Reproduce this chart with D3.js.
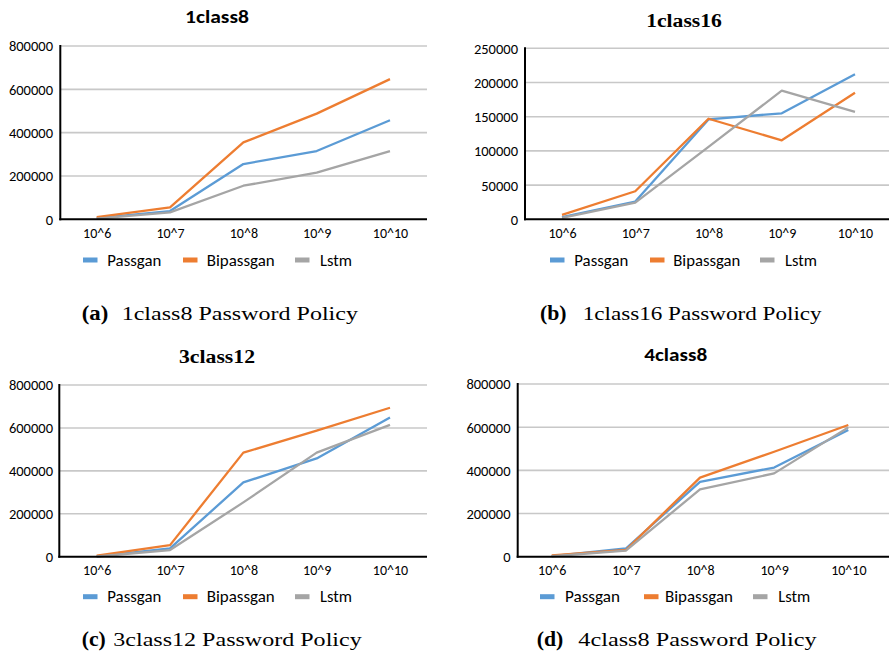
<!DOCTYPE html>
<html>
<head>
<meta charset="utf-8">
<script src="https://cdn.jsdelivr.net/npm/d3@7"></script>
<style>
  html, body { margin: 0; padding: 0; background: #ffffff; }
  svg { display: block; }
</style>
</head>
<body>
<svg id="chart" width="889" height="661"></svg>
<script>
// ---------- DATA ----------
const categories = ["10^6", "10^7", "10^8", "10^9", "10^10"];
const seriesNames = ["Passgan", "Bipassgan", "Lstm"];
const seriesColors = ["#5B9BD5", "#ED7D31", "#A5A5A5"];

const ticks800k = [0, 200000, 400000, 600000, 800000];
const ticks250k = [0, 50000, 100000, 150000, 200000, 250000];

// 1class8
const passgan1class8   = [5000, 38000, 255000, 315000, 457000];
const bipassgan1class8 = [10000, 55000, 355000, 488000, 647000];
const lstm1class8      = [3000, 32000, 155000, 215000, 315000];

// 1class16
const passgan1class16   = [3000, 26000, 146000, 155000, 212000];
const bipassgan1class16 = [6500, 41000, 147000, 115500, 185000];
const lstm1class16      = [2000, 24500, 106000, 188000, 157000];

// 3class12
const passgan3class12   = [2000, 39000, 346000, 458000, 649000];
const bipassgan3class12 = [5000, 54000, 485000, 587000, 694000];
const lstm3class12      = [1000, 31000, 253000, 485000, 614000];

// 4class8
const passgan4class8   = [3000, 38000, 347000, 413000, 587000];
const bipassgan4class8 = [6000, 31000, 366000, 486000, 610000];
const lstm4class8      = [2000, 28000, 312000, 386000, 599000];

const titles = ["1class8", "1class16", "3class12", "4class8"];
const captionTags = ["(a)", "(b)", "(c)", "(d)"];
const captionTexts = ["1class8 Password Policy", "1class16 Password Policy",
                      "3class12 Password Policy", "4class8 Password Policy"];

// ---------- LAYOUT ----------
const panels = [
  { title: titles[0], series: [passgan1class8, bipassgan1class8, lstm1class8], ticks: ticks800k, yMax: 800000,
    axisX: 60.3, gridRight: 427, firstX: 96.7, lastX: 390, yTop: 46, yZero: 219.3,
    tickRight: 53, xLabelY: 237.5,
    titleSerif: false, titleX: 217, titleY: 22.7, titleLen: 64,
    legendY: 260, legend: [[83, 107.3, 54], [183, 206.7, 68], [295, 320, 32]],
    capTagX: 81.7, capTagLen: 26.6, capTextX: 121.7, capLen: 236.3, capY: 320 },
  { title: titles[1], series: [passgan1class16, bipassgan1class16, lstm1class16], ticks: ticks250k, yMax: 250000,
    axisX: 525, gridRight: 892, firstX: 562, lastX: 855, yTop: 48.3, yZero: 219.3,
    tickRight: 518, xLabelY: 237.5,
    titleSerif: true, titleX: 684, titleY: 26.7, titleLen: 75.7,
    legendY: 260, legend: [[550, 574.3, 54], [650, 673.3, 67], [760, 785, 32]],
    capTagX: 540, capTagLen: 26.6, capTextX: 582.7, capLen: 239, capY: 320 },
  { title: titles[2], series: [passgan3class12, bipassgan3class12, lstm3class12], ticks: ticks800k, yMax: 800000,
    axisX: 59.3, gridRight: 427, firstX: 96.7, lastX: 390, yTop: 385, yZero: 556.7,
    tickRight: 53, xLabelY: 575,
    titleSerif: true, titleX: 217, titleY: 363.3, titleLen: 76,
    legendY: 596.7, legend: [[83, 107.3, 54], [183, 206.7, 68], [295, 320, 32]],
    capTagX: 81.7, capTagLen: 24, capTextX: 113.3, capLen: 248.4, capY: 646 },
  { title: titles[3], series: [passgan4class8, bipassgan4class8, lstm4class8], ticks: ticks800k, yMax: 800000,
    axisX: 517.7, gridRight: 892, firstX: 551.7, lastX: 848.3, yTop: 384, yZero: 556.7,
    tickRight: 510.5, xLabelY: 575,
    titleSerif: false, titleX: 675.7, titleY: 361, titleLen: 63,
    legendY: 596.7, legend: [[540, 565, 55], [644, 665, 68], [753, 778.3, 32]],
    capTagX: 536.7, capTagLen: 26.6, capTextX: 578.3, capLen: 238.4, capY: 646 }
];

const svg = d3.select("#chart");
const sansFont = "Carlito, Lato, 'Liberation Sans', sans-serif";
const serifFont = "'Liberation Serif', serif";

panels.forEach((p, pi) => {
  const g = svg.append("g");

  const y = d3.scaleLinear().domain([0, p.yMax]).range([p.yZero, p.yTop]);
  const x = d3.scalePoint().domain(categories).range([p.firstX, p.lastX]);

  // gridlines
  g.append("g").selectAll("line")
    .data(p.ticks.filter(t => t > 0))
    .join("line")
    .attr("x1", p.axisX).attr("x2", p.gridRight)
    .attr("y1", d => y(d)).attr("y2", d => y(d))
    .attr("stroke", "#c8c8c8").attr("stroke-width", 1.6);

  // y axis labels
  const yAxis = d3.axisLeft(y).tickValues(p.ticks).tickSize(0).tickPadding(0)
    .tickFormat(d3.format("d"));
  const ya = g.append("g").attr("transform", `translate(${p.tickRight},0)`).call(yAxis);
  ya.select(".domain").remove();
  ya.selectAll("text").attr("font-family", sansFont).attr("font-size", 14.5)
    .attr("fill", "#000").attr("dy", "0.34em");

  // x axis labels
  const xAxis = d3.axisBottom(x).tickSize(0).tickPadding(0);
  const xa = g.append("g").attr("transform", `translate(0,${p.xLabelY})`).call(xAxis);
  xa.select(".domain").remove();
  xa.selectAll("text").attr("font-family", sansFont).attr("font-size", 14)
    .attr("fill", "#000").attr("dy", 0).attr("y", 0);

  // lines
  const line = d3.line().x((d, i) => x(categories[i])).y(d => y(d));
  p.series.forEach((s, si) => {
    g.append("path").datum(s)
      .attr("d", line)
      .attr("fill", "none")
      .attr("stroke", seriesColors[si])
      .attr("stroke-width", 2.3)
      .attr("stroke-linejoin", "round");
  });

  // axis lines
  g.append("line").attr("x1", p.axisX).attr("x2", p.axisX)
    .attr("y1", p.yTop - 1).attr("y2", p.yZero + 1)
    .attr("stroke", "#000").attr("stroke-width", 2);
  g.append("line").attr("x1", p.axisX - 1).attr("x2", p.gridRight)
    .attr("y1", p.yZero).attr("y2", p.yZero)
    .attr("stroke", "#000").attr("stroke-width", 2);

  // title
  g.append("text").text(p.title)
    .attr("x", p.titleX).attr("y", p.titleY)
    .attr("text-anchor", "middle")
    .attr("font-family", p.titleSerif ? serifFont : sansFont)
    .attr("font-weight", "bold").attr("font-size", 18)
    .attr("textLength", p.titleLen).attr("lengthAdjust", "spacingAndGlyphs");

  // legend
  seriesNames.forEach((name, si) => {
    const [sx, tx, tl] = p.legend[si];
    g.append("rect").attr("x", sx).attr("y", p.legendY - 2.5)
      .attr("width", 14.5).attr("height", 5).attr("fill", seriesColors[si]);
    g.append("text").text(name).attr("x", tx).attr("y", p.legendY + 5.5)
      .attr("font-family", sansFont).attr("font-size", 15.5)
      .attr("textLength", tl).attr("lengthAdjust", "spacingAndGlyphs");
  });

  // caption
  g.append("text").text(captionTags[pi])
    .attr("x", p.capTagX).attr("y", p.capY)
    .attr("font-family", serifFont).attr("font-weight", "bold")
    .attr("font-size", 20)
    .attr("textLength", p.capTagLen).attr("lengthAdjust", "spacingAndGlyphs");
  g.append("text").text(captionTexts[pi])
    .attr("x", p.capTextX).attr("y", p.capY)
    .attr("font-family", serifFont)
    .attr("font-size", 18.5)
    .attr("textLength", p.capLen).attr("lengthAdjust", "spacingAndGlyphs");
});
</script>
</body>
</html>
